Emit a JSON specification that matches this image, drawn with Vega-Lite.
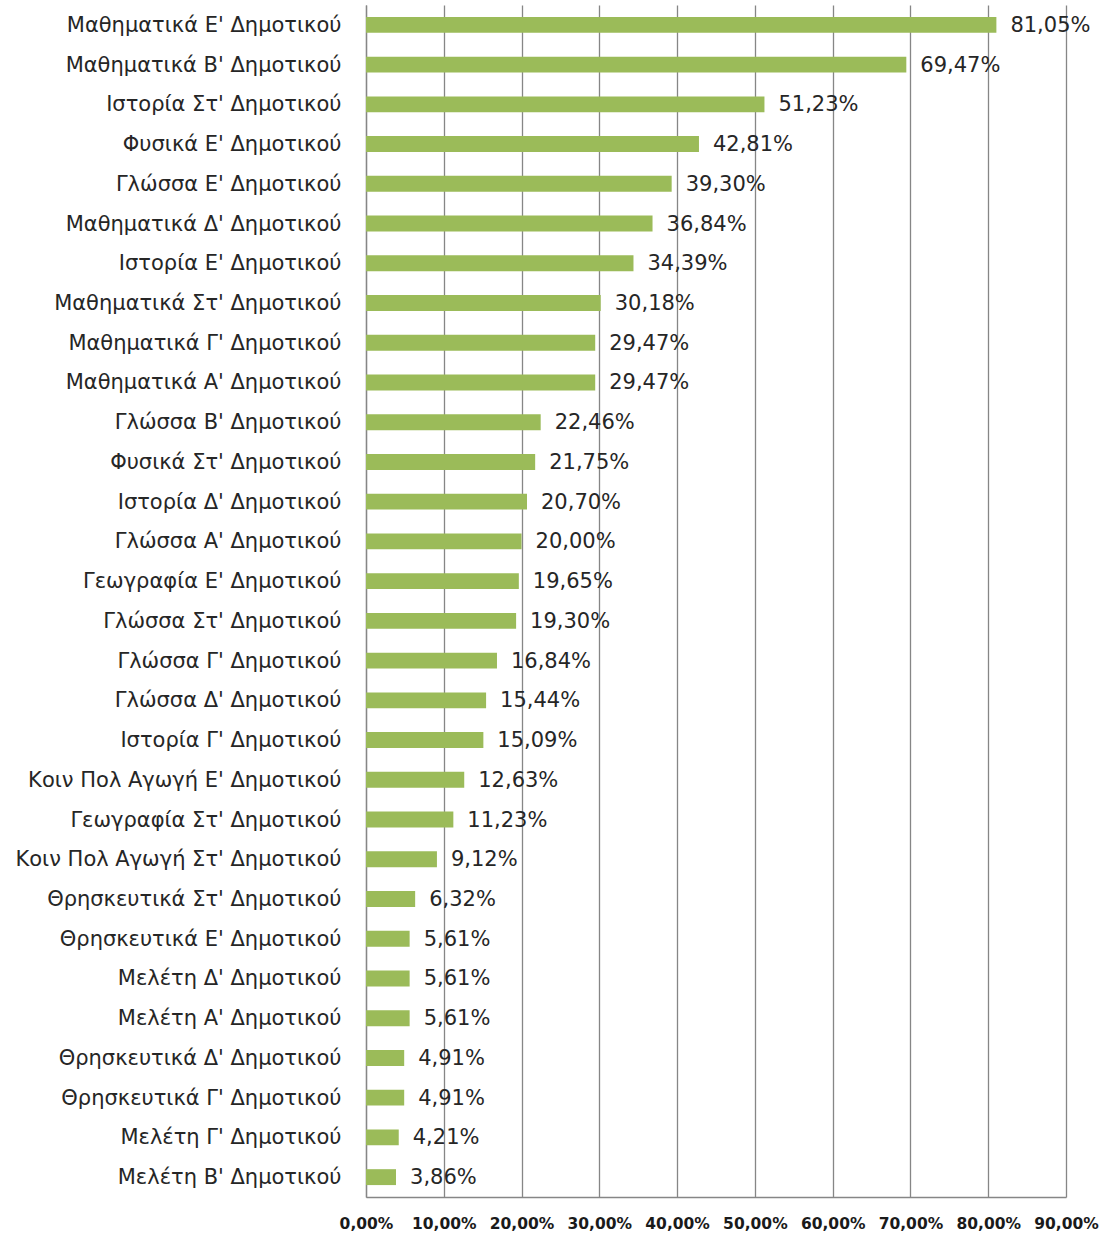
{
  "$schema": "https://vega.github.io/schema/vega-lite/v6.json",
  "width": 700,
  "height": 1192,
  "autosize": {"type": "none"},
  "padding": {"left": 366, "top": 5, "right": 39, "bottom": 37},
  "background": "white",
  "config": {
    "locale": {"number": {"decimal": ",", "thousands": ".", "grouping": [3], "currency": ["", "€"]}},
    "view": {"stroke": null},
    "font": "DejaVu Sans"
  },
  "data": {
    "values": [
      {"subject": "Μαθηματικά Ε' Δημοτικού", "value": 0.8105},
      {"subject": "Μαθηματικά Β' Δημοτικού", "value": 0.6947},
      {"subject": "Ιστορία Στ' Δημοτικού", "value": 0.5123},
      {"subject": "Φυσικά Ε' Δημοτικού", "value": 0.4281},
      {"subject": "Γλώσσα Ε' Δημοτικού", "value": 0.3930},
      {"subject": "Μαθηματικά Δ' Δημοτικού", "value": 0.3684},
      {"subject": "Ιστορία Ε' Δημοτικού", "value": 0.3439},
      {"subject": "Μαθηματικά Στ' Δημοτικού", "value": 0.3018},
      {"subject": "Μαθηματικά Γ' Δημοτικού", "value": 0.2947},
      {"subject": "Μαθηματικά Α' Δημοτικού", "value": 0.2947},
      {"subject": "Γλώσσα Β' Δημοτικού", "value": 0.2246},
      {"subject": "Φυσικά Στ' Δημοτικού", "value": 0.2175},
      {"subject": "Ιστορία Δ' Δημοτικού", "value": 0.2070},
      {"subject": "Γλώσσα Α' Δημοτικού", "value": 0.2000},
      {"subject": "Γεωγραφία Ε' Δημοτικού", "value": 0.1965},
      {"subject": "Γλώσσα Στ' Δημοτικού", "value": 0.1930},
      {"subject": "Γλώσσα Γ' Δημοτικού", "value": 0.1684},
      {"subject": "Γλώσσα Δ' Δημοτικού", "value": 0.1544},
      {"subject": "Ιστορία Γ' Δημοτικού", "value": 0.1509},
      {"subject": "Κοιν Πολ Αγωγή Ε' Δημοτικού", "value": 0.1263},
      {"subject": "Γεωγραφία Στ' Δημοτικού", "value": 0.1123},
      {"subject": "Κοιν Πολ Αγωγή Στ' Δημοτικού", "value": 0.0912},
      {"subject": "Θρησκευτικά Στ' Δημοτικού", "value": 0.0632},
      {"subject": "Θρησκευτικά Ε' Δημοτικού", "value": 0.0561},
      {"subject": "Μελέτη Δ' Δημοτικού", "value": 0.0561},
      {"subject": "Μελέτη Α' Δημοτικού", "value": 0.0561},
      {"subject": "Θρησκευτικά Δ' Δημοτικού", "value": 0.0491},
      {"subject": "Θρησκευτικά Γ' Δημοτικού", "value": 0.0491},
      {"subject": "Μελέτη Γ' Δημοτικού", "value": 0.0421},
      {"subject": "Μελέτη Β' Δημοτικού", "value": 0.0386}
    ]
  },
  "encoding": {
    "y": {
      "field": "subject",
      "type": "nominal",
      "sort": null,
      "scale": {"paddingInner": 0.6, "paddingOuter": 0.3},
      "axis": {
        "title": null,
        "ticks": false,
        "domain": true,
        "domainColor": "#868686",
        "domainWidth": 1.3,
        "labelFont": "DejaVu Sans",
        "labelFontSize": 21,
        "labelColor": "#262626",
        "labelPadding": 25,
        "labelLimit": 400,
        "labelBaseline": "middle",
        "labelOffset": 1
      }
    },
    "x": {
      "field": "value",
      "type": "quantitative",
      "scale": {"domain": [0, 0.9], "nice": false},
      "axis": {
        "title": null,
        "format": ".2%",
        "values": [0, 0.1, 0.2, 0.3, 0.4, 0.5, 0.6, 0.7, 0.8, 0.9],
        "grid": true,
        "gridColor": "#868686",
        "gridWidth": 1.3,
        "ticks": false,
        "domainColor": "#868686",
        "domainWidth": 1.3,
        "labelFont": "DejaVu Sans",
        "labelFontSize": 15.5,
        "labelFontWeight": "bold",
        "labelColor": "#1a1a1a",
        "labelPadding": 19,
        "labelOverlap": false,
        "labelFlush": false,
        "labelBound": false
      }
    }
  },
  "layer": [
    {"mark": {"type": "bar", "color": "#9BBB59"}},
    {
      "mark": {"type": "text", "align": "left", "baseline": "middle", "dx": 14, "dy": 1, "fontSize": 21, "color": "#262626", "font": "DejaVu Sans"},
      "encoding": {"text": {"field": "value", "type": "quantitative", "format": ".2%"}}
    }
  ]
}
